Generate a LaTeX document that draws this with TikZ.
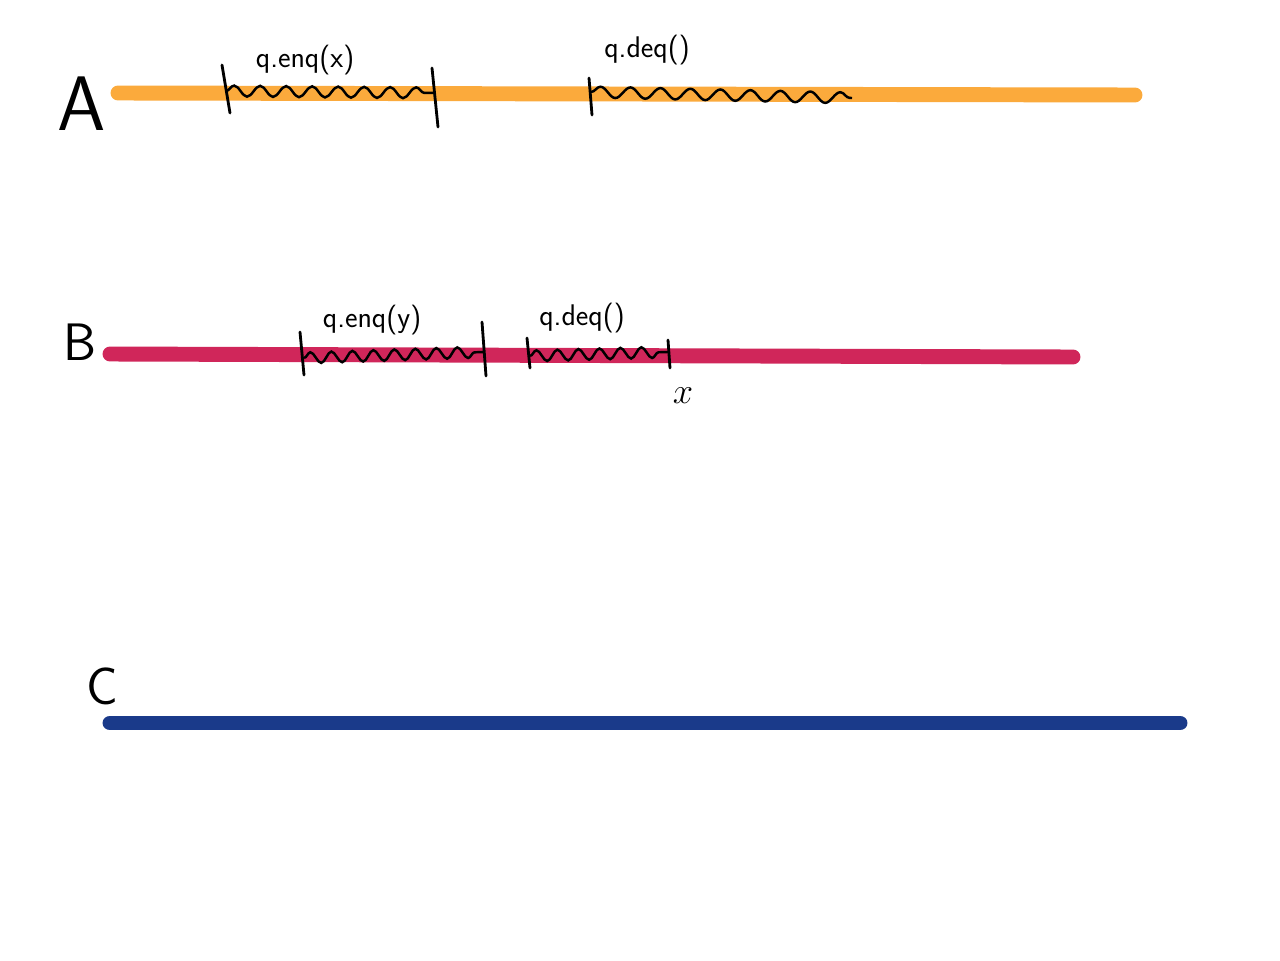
\documentclass[tikz,border=0pt]{standalone}
\usetikzlibrary{decorations.pathmorphing, positioning}
\definecolor{laneA}{RGB}{251,170,60}
\definecolor{laneB}{RGB}{208,38,90}
\definecolor{laneC}{RGB}{26,58,138}

\tikzset{
  lane/.style={line width=8.5pt, line cap=round},
  optick/.style={line width=1.6pt, line cap=round},
  wave/.style={line width=1.4pt, decorate, decoration={snake, amplitude=0.11cm, segment length=0.52cm}},
  procname/.style={font=\sffamily\fontsize{30}{30}\selectfont, text=black, inner sep=0},
  opname/.style={font=\sffamily\fontsize{17}{17}\selectfont, text=black, inner sep=0}
}

\begin{document}
\begin{tikzpicture}[x=0.02cm, y=-0.02cm]
    \useasboundingbox[fill=white] (0,0) rectangle (1280,960);

    % the three processes
    \node[procname, font=\sffamily\fontsize{44}{44}\selectfont] (procA) at (82,104) {A};
    \node[procname] (procB) at (80,342) {B};
    \node[procname] (procC) at (102,686) {C};

    \coordinate (aStart) at (118,93);  \coordinate (aEnd) at (1135,95);
    \coordinate (bStart) at (110,354); \coordinate (bEnd) at (1073,357);
    \coordinate (cStart) at (110,723); \coordinate (cEnd) at (1180,723);

    \draw[lane, laneA] (aStart) -- (aEnd);
    \draw[lane, laneB] (bStart) -- (bEnd);
    \draw[lane, laneC] (cStart) -- (cEnd);

    % A: enq then deq
    \coordinate (a1t) at (222,65);  \coordinate (a1b) at (230,113);
    \coordinate (a2t) at (432,68);  \coordinate (a2b) at (438,127);
    \coordinate (a3t) at (589,78);  \coordinate (a3b) at (592,115);
    \draw[optick] (a1t) -- (a1b);
    \draw[optick] (a2t) -- (a2b);
    \draw[optick] (a3t) -- (a3b);
    \draw[wave] (226,91) -- (435,93);
    \draw[wave, decoration={segment length=0.6cm}] (591,92) -- (852,98);
    \node[opname] (enqA) at (305,60) {q.enq(x)};
    \node[opname] (deqA) at (647,50) {q.deq()};

    % B: enq then deq, returns x
    \coordinate (b1t) at (300,332); \coordinate (b1b) at (304,375);
    \coordinate (b2t) at (482,322); \coordinate (b2b) at (486,376);
    \coordinate (b3t) at (527,338); \coordinate (b3b) at (530,368);
    \coordinate (b4t) at (668,340); \coordinate (b4b) at (670,368);
    \draw[optick] (b1t) -- (b1b);
    \draw[optick] (b2t) -- (b2b);
    \draw[optick] (b3t) -- (b3b);
    \draw[optick] (b4t) -- (b4b);
    \draw[wave, decoration={segment length=0.42cm}] (304,358) -- (484,352);
    \draw[wave, decoration={segment length=0.42cm}] (530,356) -- (668,352);
    \node[opname] (enqB) at (372,320) {q.enq(y)};
    \node[opname] (deqB) at (582,318) {q.deq()};
    \node[opname, font=\fontsize{22}{22}\selectfont] (retB) at (683,396) {$x$};
\end{tikzpicture}
\end{document}
